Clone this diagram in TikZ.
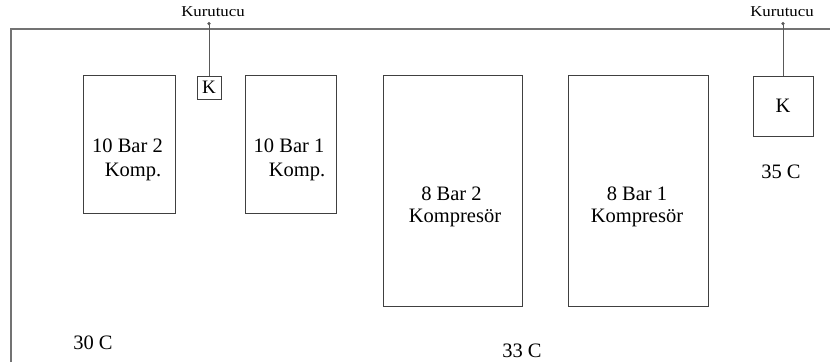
\documentclass[tikz,border=0pt]{standalone}
\usepackage{fontspec}
\setmainfont{Liberation Serif}
\usetikzlibrary{arrows.meta}
\begin{document}
\begin{tikzpicture}[x=1pt,y=-1pt,
  comp/.style={draw=black!75,line width=1pt,fill=white},
  lbl/.style={font=\fontsize{20.5}{23}\selectfont,anchor=base,inner sep=0pt},
  small/.style={font=\fontsize{15}{18}\selectfont,anchor=base,inner sep=0pt,xscale=1.12},
  wall/.style={draw=black!55,line width=1.3pt},
  pipe/.style={draw=black!65,line width=0.9pt,-{Circle[length=3.2pt]}}]
\useasboundingbox (0,0) rectangle (830,362);
% walls
\coordinate (wb) at (11,362);
\coordinate (wc) at (11,29);
\coordinate (wr) at (830,29);
\draw[wall] (wb) -- (wc) -- (wr);
% compressors
\draw[comp] (83,75) rectangle (175,213);
\draw[comp] (245,75) rectangle (336,213);
\draw[comp] (383,75) rectangle (522,306);
\draw[comp] (568,75) rectangle (708,306);
% dryers
\node[comp,minimum width=24pt,minimum height=23pt,inner sep=0pt,font=\fontsize{19}{20}\selectfont] (k1) at (209,87.5) {K};
\node[comp,minimum width=60pt,minimum height=60pt,inner sep=0pt,font=\fontsize{20.5}{20}\selectfont] (k2) at (783,106) {K};
\coordinate (t1) at (k1.north |- 0,22);
\coordinate (t2) at (k2.north |- 0,22);
\draw[pipe] (k1.north) -- (t1);
\draw[pipe] (k2.north) -- (t2);
\node[small] (ku1) at (213,16) {Kurutucu};
\node[small] (ku2) at (782,16) {Kurutucu};
% labels
\node[lbl] (a1) at (127.5,152) {10 Bar 2};
\node[lbl] (a2) at (133,176) {Komp.};
\node[lbl] (b1) at (289,152) {10 Bar 1};
\node[lbl] (b2) at (297,176) {Komp.};
\node[lbl] (c1) at (451.5,200) {8 Bar 2};
\node[lbl] (c2) at (455,222) {Kompresör};
\node[lbl] (d1) at (637,200) {8 Bar 1};
\node[lbl] (d2) at (637,222) {Kompresör};
\node[lbl] (t35) at (781,178) {35 C};
\node[lbl] (t30) at (93,349) {30 C};
\node[lbl] (t33) at (522,357) {33 C};
\end{tikzpicture}
\end{document}
